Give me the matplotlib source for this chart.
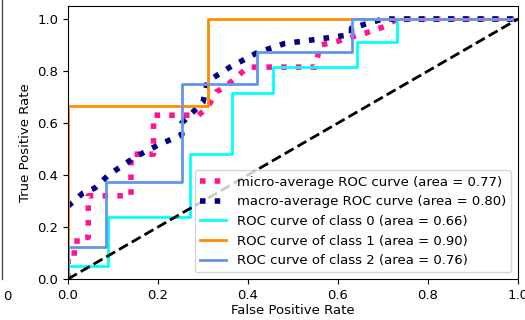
import matplotlib
matplotlib.use("Agg")
import matplotlib.pyplot as plt
from matplotlib.lines import Line2D

plt.rcParams["font.size"] = 9.5

# micro-average ROC (step curve over all classes)
fpr_micro = [0, 0, 0.02, 0.02, 0.045, 0.045, 0.14, 0.14, 0.19, 0.19, 0.29, 0.31,
             0.33, 0.35, 0.40, 0.55, 0.56, 0.59, 0.66, 0.71, 0.73, 1.0]
tpr_micro = [0, 0.10, 0.10, 0.16, 0.16, 0.32, 0.32, 0.48, 0.48, 0.63, 0.63, 0.66,
             0.72, 0.74, 0.815, 0.815, 0.90, 0.91, 0.945, 0.975, 1.0, 1.0]

# macro-average ROC (interpolated mean)
fpr_macro = [0, 0.033, 0.06, 0.09, 0.15, 0.20, 0.253, 0.253, 0.30, 0.31, 0.36,
             0.42, 0.48, 0.63, 0.63, 0.68, 0.70, 1.0]
tpr_macro = [0.28, 0.33, 0.35, 0.40, 0.47, 0.515, 0.555, 0.60, 0.68, 0.76, 0.815,
             0.87, 0.905, 0.94, 0.965, 0.99, 1.0, 1.0]

# per-class ROC curves
fpr_0 = [0, 0, 0.089, 0.089, 0.27, 0.27, 0.364, 0.364, 0.456, 0.456, 0.642, 0.642, 0.73, 0.73, 1.0]
tpr_0 = [0, 0.05, 0.05, 0.24, 0.24, 0.48, 0.48, 0.715, 0.715, 0.815, 0.815, 0.91, 0.91, 1.0, 1.0]
fpr_1 = [0, 0, 0.31, 0.31, 1.0]
tpr_1 = [0, 0.667, 0.667, 1.0, 1.0]
fpr_2 = [0, 0, 0.084, 0.084, 0.253, 0.253, 0.42, 0.42, 0.63, 0.63, 1.0]
tpr_2 = [0, 0.125, 0.125, 0.375, 0.375, 0.75, 0.75, 0.875, 0.875, 1.0, 1.0]

areas = {"micro": 0.77, "macro": 0.80, 0: 0.66, 1: 0.90, 2: 0.76}
class_curves = [(fpr_0, tpr_0), (fpr_1, tpr_1), (fpr_2, tpr_2)]
colors = ["aqua", "darkorange", "cornflowerblue"]

fig = plt.figure(figsize=(5.25, 3.2), dpi=100)
ax = fig.add_axes([68 / 525, 41 / 320, 450 / 525, 273 / 320])

ax.plot(fpr_micro, tpr_micro, color="deeppink", linestyle=":", linewidth=4,
        label="micro-average ROC curve (area = {0:0.2f})".format(areas["micro"]))
ax.plot(fpr_macro, tpr_macro, color="navy", linestyle=":", linewidth=4,
        label="macro-average ROC curve (area = {0:0.2f})".format(areas["macro"]))
for i, ((f, t), c) in enumerate(zip(class_curves, colors)):
    ax.plot(f, t, color=c, lw=2,
            label="ROC curve of class {0} (area = {1:0.2f})".format(i, areas[i]))

ax.plot([0, 1], [0, 1], "k--", lw=2)
ax.set_xlim(0.0, 1.0)
ax.set_ylim(0.0, 1.05)
ax.set_xlabel("False Positive Rate", labelpad=2)
ax.set_ylabel("True Positive Rate")
ax.legend(loc="lower right")

# leftovers of the neighbouring subplot, cut off by the crop
fig.add_artist(Line2D([2 / 525, 2 / 525], [41 / 320, 1.0], color="0.3", lw=1,
                      transform=fig.transFigure))
fig.text(3 / 525, 1 - 296 / 320, "0", va="center", ha="left")

fig.savefig("out.png", dpi=100)
